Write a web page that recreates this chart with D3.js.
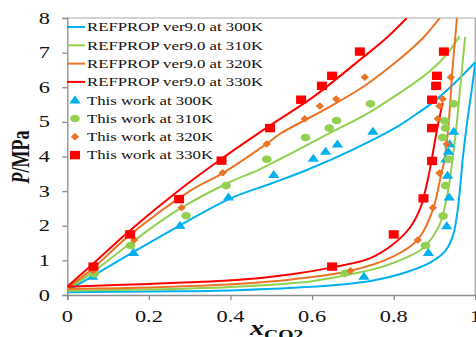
<!DOCTYPE html>
<html>
<head>
<meta charset="utf-8">
<script src="https://cdn.jsdelivr.net/npm/d3@7"></script>
<style>
  body { margin: 0; background: #fff; }
  svg { display: block; font-family: "Liberation Serif", "Times New Roman", serif; }
</style>
</head>
<body>
<svg id="grafico"></svg>
<script>
// REFPROP curves [x_CO2, P/MPa]
const bolha300 = [[0,0.12],[0.06,0.53],[0.15,1.16],[0.27,1.97],[0.4,2.79],[0.5,3.22],[0.587,3.61],[0.7,4.2],[0.81,4.87],[0.855,5.22],[0.9,5.6],[0.945,6.07],[1.0,6.72]];
const bolha310 = [[0,0.17],[0.06,0.64],[0.15,1.45],[0.27,2.45],[0.4,3.27],[0.47,3.62],[0.55,4.1],[0.644,4.68],[0.73,5.2],[0.81,5.8],[0.887,6.45],[0.93,6.95],[0.961,7.47]];
const bolha320 = [[0,0.2],[0.06,0.74],[0.15,1.7],[0.3,3.0],[0.381,3.52],[0.49,4.38],[0.521,4.65],[0.644,5.44],[0.73,6.05],[0.81,6.77],[0.87,7.4],[0.913,8.0]];
const bolha330 = [[0,0.24],[0.06,0.87],[0.15,1.83],[0.273,3.02],[0.374,3.9],[0.5,4.92],[0.604,5.73],[0.717,6.79],[0.78,7.4],[0.832,8.0]];

const orvalho300 = [[0,0.08],[0.2,0.1],[0.414,0.14],[0.659,0.29],[0.75,0.42],[0.823,0.63],[0.887,0.92],[0.925,1.25],[0.945,1.7],[0.955,2.3],[0.962,3.0],[0.969,3.9],[0.98,5.0],[0.991,5.9],[1.0,6.72]];
const orvalho310 = [[0,0.12],[0.2,0.16],[0.414,0.24],[0.6,0.4],[0.686,0.58],[0.781,0.85],[0.871,1.35],[0.912,2.02],[0.932,2.94],[0.944,3.9],[0.955,5.0],[0.963,6.0],[0.975,7.45]];
const orvalho320 = [[0,0.17],[0.2,0.22],[0.414,0.32],[0.55,0.45],[0.694,0.7],[0.797,1.1],[0.859,1.6],[0.896,2.46],[0.913,3.3],[0.925,3.95],[0.935,5.0],[0.944,6.5],[0.955,8.0]];
const orvalho330 = [[0,0.24],[0.2,0.32],[0.414,0.43],[0.55,0.6],[0.659,0.82],[0.74,1.05],[0.797,1.45],[0.84,1.95],[0.865,2.5],[0.883,3.3],[0.893,3.9],[0.905,4.7],[0.92,5.55]];

// this work
const medidas300 = [[0.062,0.53],[0.162,1.22],[0.276,2.0],[0.395,2.82],[0.506,3.47],[0.603,3.94],[0.633,4.14],[0.662,4.35],[0.749,4.72],
                    [0.727,0.53],[0.885,1.22],[0.93,1.99],[0.936,2.82],[0.932,3.45],[0.928,3.92],[0.934,4.14],[0.937,4.36],[0.947,4.72]];
const medidas310 = [[0.066,0.61],[0.155,1.43],[0.291,2.29],[0.389,3.16],[0.489,3.92],[0.584,4.55],[0.642,4.82],[0.66,5.04],[0.743,5.52],
                    [0.681,0.63],[0.878,1.43],[0.921,2.28],[0.927,3.16],[0.935,3.92],[0.92,4.55],[0.927,4.82],[0.925,5.03],[0.947,5.52]];
const medidas320 = [[0.063,0.7],[0.164,1.59],[0.28,2.52],[0.381,3.53],[0.489,4.36],[0.582,5.09],[0.619,5.46],[0.659,5.66],[0.729,6.29],
                    [0.694,0.7],[0.859,1.59],[0.896,2.52],[0.912,3.52],[0.93,4.36],[0.908,5.09],[0.912,5.46],[0.92,5.66],[0.94,6.29]];
const medidas330 = [[0.064,0.82],[0.154,1.75],[0.274,2.77],[0.378,3.88],[0.497,4.82],[0.573,5.64],[0.624,6.04],[0.649,6.33],[0.717,7.03],
                    [0.649,0.82],[0.8,1.75],[0.873,2.79],[0.894,3.87],[0.894,4.82],[0.894,5.64],[0.904,6.04],[0.906,6.33],[0.923,7.03]];

const ticksX = [0, 0.2, 0.4, 0.6, 0.8, 1];
const ticksY = [0, 1, 2, 3, 4, 5, 6, 7, 8];
const rotulosLegenda = ['REFPROP ver9.0 at 300K', 'REFPROP ver9.0 at 310K', 'REFPROP ver9.0 at 320K', 'REFPROP ver9.0 at 330K',
                        'This work at 300K', 'This work at 310K', 'This work at 320K', 'This work at 330K'];

const cores = ['#00B0F0', '#92D050', '#EB7425', '#FF0000'];
const esticar = 1.4;   // the picture is stretched sideways

let largura = 476, altura = 337;
let margem = { esquerda: 67.3, direita: 0.7, superior: 18, inferior: 42 };

let svg = d3.select('#grafico').attr('width', largura).attr('height', altura);

let fnX = d3.scaleLinear().domain([0, 1]).range([margem.esquerda, largura - margem.direita]);
let fnY = d3.scaleLinear().domain([0, 8]).range([altura - margem.inferior, margem.superior]);

svg.append('clipPath').attr('id', 'recorte').append('rect')
    .attr('x', fnX(0)).attr('y', fnY(8))
    .attr('width', fnX(1) - fnX(0)).attr('height', fnY(0) - fnY(8));

// frame
svg.append('line').attr('x1', fnX(0)).attr('x2', fnX(1)).attr('y1', fnY(8)).attr('y2', fnY(8))
    .attr('stroke', '#c6c6c6').attr('stroke-width', 1.5);
svg.append('line').attr('x1', fnX(1)).attr('x2', fnX(1)).attr('y1', fnY(8)).attr('y2', fnY(0))
    .attr('stroke', '#b0b0b0').attr('stroke-width', 1.5);

let eixoX = d3.axisBottom(fnX).tickValues(ticksX).tickSize(5).tickFormat('');
svg.append('g').attr('transform', 'translate(0,' + fnY(0) + ')').call(eixoX)
    .call(g => g.selectAll('path, line').attr('stroke', '#8c8c8c').attr('stroke-width', 1.3));

let eixoY = d3.axisLeft(fnY).tickValues(ticksY).tickSize(5).tickFormat('');
svg.append('g').attr('transform', 'translate(' + fnX(0) + ',0)').call(eixoY)
    .call(g => g.selectAll('path, line').attr('stroke', '#8c8c8c').attr('stroke-width', 1.3));

// tick labels, stretched like the source
ticksX.forEach(t => {
    svg.append('text')
        .attr('transform', 'translate(' + fnX(t) + ',322) scale(' + esticar + ',1)')
        .attr('text-anchor', 'middle').style('font-size', '16px').attr('fill', '#111')
        .text(t === 0 ? '0' : t === 1 ? '1' : t.toFixed(1));
});
ticksY.forEach(t => {
    svg.append('text')
        .attr('transform', 'translate(50,' + (fnY(t) + 5.5) + ') scale(' + esticar + ',1)')
        .attr('text-anchor', 'end').style('font-size', '16px').attr('fill', '#111')
        .text(t);
});

// axis titles
let tituloY = svg.append('text')
    .attr('transform', 'translate(29,157) scale(' + esticar + ',1) rotate(-90)')
    .attr('text-anchor', 'middle').style('font-size', '18px').style('font-weight', 'bold').attr('fill', '#111');
tituloY.append('tspan').style('font-style', 'italic').text('P');
tituloY.append('tspan').text('/MPa');

let tituloX = svg.append('text')
    .attr('transform', 'translate(250,335) scale(' + esticar + ',1)')
    .style('font-size', '20px').style('font-weight', 'bold').attr('fill', '#111');
tituloX.append('tspan').style('font-style', 'italic').text('x');
tituloX.append('tspan').attr('dy', 5).style('font-size', '14px').text('CO2');

// curves
let linha = d3.line().x(d => fnX(d[0])).y(d => fnY(d[1])).curve(d3.curveCatmullRom.alpha(0.5));
let plotagem = svg.append('g').attr('clip-path', 'url(#recorte)');
[[bolha300, orvalho300], [bolha310, orvalho310], [bolha320, orvalho320], [bolha330, orvalho330]].forEach((par, i) => {
    par.forEach(serie => {
        plotagem.append('path').attr('d', linha(serie))
            .attr('fill', 'none').attr('stroke', cores[i]).attr('stroke-width', 2);
    });
});

// markers
function desenheMarcador(g, tipo, x, y, cor) {
    if (tipo === 0) {
        g.append('path').attr('d', d3.symbol(d3.symbolTriangle, 42)())
            .attr('transform', 'translate(' + x + ',' + (y + 0.5) + ') scale(1.15,0.95)').attr('fill', cor);
    } else if (tipo === 1) {
        g.append('ellipse').attr('cx', x).attr('cy', y).attr('rx', 4.8).attr('ry', 3.8).attr('fill', cor);
    } else if (tipo === 2) {
        g.append('path').attr('d', 'M0,-3.8L4.2,0L0,3.8L-4.2,0Z')
            .attr('transform', 'translate(' + x + ',' + y + ')').attr('fill', cor);
    } else {
        g.append('rect').attr('x', x - 5).attr('y', y - 4.2).attr('width', 10).attr('height', 8.4).attr('fill', cor);
    }
}

let marcas = svg.append('g');
[medidas300, medidas310, medidas320, medidas330].forEach((serie, i) => {
    serie.forEach(d => desenheMarcador(marcas, i, fnX(d[0]), fnY(d[1]), cores[i]));
});

// legend
let legenda = svg.append('g');
rotulosLegenda.forEach((rotulo, i) => {
    let y = 27 + i * 18.3;
    let k = i % 4;
    if (i < 4) {
        legenda.append('line').attr('x1', 67).attr('x2', 85).attr('y1', y).attr('y2', y)
            .attr('stroke', cores[k]).attr('stroke-width', 2);
    } else {
        desenheMarcador(legenda, k, 75, y, cores[k]);
    }
    legenda.append('text')
        .attr('transform', 'translate(87,' + (y + 4.3) + ') scale(1.34,1)')
        .style('font-size', '12.5px').attr('fill', '#111')
        .text(rotulo);
});
</script>
</body>
</html>
